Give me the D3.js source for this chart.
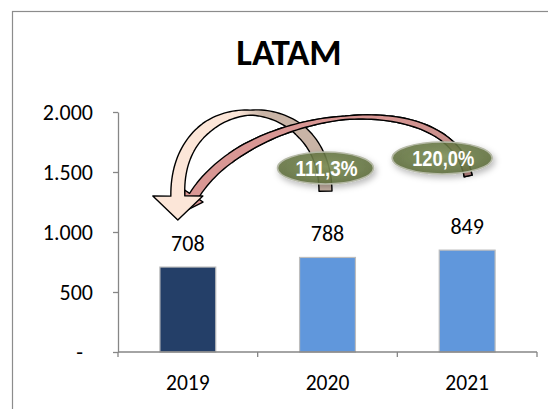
<!DOCTYPE html>
<html><head><meta charset="utf-8">
<script src="https://cdn.jsdelivr.net/npm/d3@7"></script>
<style>body{margin:0;background:#fff}svg{display:block}</style>
</head><body><svg id="c" width="548" height="409"></svg>
<script>
const title = "LATAM";
const categories = ["2019", "2020", "2021"];
const values = [708, 788, 849];
const barColors = ["#243F68", "#6097DC", "#6097DC"];
const yTicks = [0, 500, 1000, 1500, 2000];
const yTickLabels = ["-", "500", "1.000", "1.500", "2.000"];
const growthLabels = ["111,3%", "120,0%"];

const FONT = "Carlito, Lato, 'Liberation Sans', sans-serif";
const svg = d3.select("#c");
const x = d3.scaleBand().domain(categories).range([118, 537]).paddingInner(0.6).paddingOuter(0.3);
const y = d3.scaleLinear().domain([0, 2000]).range([352, 112]);
const cx = c => x(c) + x.bandwidth() / 2;

const defs = svg.append("defs");
const bg = defs.append("linearGradient").attr("id", "beige").attr("gradientUnits", "userSpaceOnUse")
  .attr("x1", 238).attr("y1", 0).attr("x2", 262).attr("y2", 0);
bg.append("stop").attr("offset", 0).attr("stop-color", "#FCE6D8");
bg.append("stop").attr("offset", 1).attr("stop-color", "#C9B4A6");
const rg = defs.append("linearGradient").attr("id", "rose").attr("gradientUnits", "userSpaceOnUse")
  .attr("x1", 380).attr("y1", 0).attr("x2", 470).attr("y2", 0);
rg.append("stop").attr("offset", 0).attr("stop-color", "#D99794");
rg.append("stop").attr("offset", 1).attr("stop-color", "#C48D89");
const eg = defs.append("radialGradient").attr("id", "olive").attr("cx", "50%").attr("cy", "45%").attr("r", "60%");
eg.append("stop").attr("offset", 0).attr("stop-color", "#7E9058");
eg.append("stop").attr("offset", 1).attr("stop-color", "#5B6A39");
const sh = defs.append("filter").attr("id", "shadow").attr("x", "-30%").attr("y", "-40%").attr("width", "160%").attr("height", "190%");
sh.append("feDropShadow").attr("dx", 2).attr("dy", 3).attr("stdDeviation", 3).attr("flood-color", "#000").attr("flood-opacity", 0.3);
defs.append("clipPath").attr("id", "rightPart").append("rect").attr("x", 232).attr("y", 0).attr("width", 400).attr("height", 409);

// frame
svg.append("rect").attr("x", 12.5).attr("y", 11.5).attr("width", 600).attr("height", 500)
  .attr("fill", "none").attr("stroke", "#8C8C8C").attr("stroke-width", 1.2);

// title
svg.append("text").attr("x", 289).attr("y", 65).attr("text-anchor", "middle")
  .attr("font-family", FONT).attr("font-weight", "bold").attr("font-size", 37).attr("fill", "#000").text(title);

// bars
svg.selectAll("rect.bar").data(values).join("rect").attr("class", "bar")
  .attr("x", (d, i) => x(categories[i])).attr("width", x.bandwidth())
  .attr("y", d => y(d)).attr("height", d => y(0) - y(d))
  .attr("fill", (d, i) => barColors[i]).attr("stroke", "#BDBDBD").attr("stroke-width", 1.2);

// value labels
svg.selectAll("text.val").data(values).join("text").attr("class", "val")
  .attr("x", (d, i) => cx(categories[i])).attr("y", d => y(d) - 16)
  .attr("text-anchor", "middle").attr("font-family", FONT).attr("font-size", 22).attr("fill", "#000")
  .text(d => d);

// y axis
const ya = svg.append("g").attr("transform", "translate(118,0)")
  .call(d3.axisLeft(y).tickValues(yTicks).tickFormat((d, i) => yTickLabels[i]).tickSize(5).tickPadding(20).tickSizeOuter(0));
ya.select(".domain").attr("stroke", "#868686").attr("stroke-width", 1.3);
ya.selectAll(".tick line").attr("stroke", "#868686").attr("stroke-width", 1.3);
ya.selectAll(".tick text").attr("font-family", FONT).attr("font-size", 22).attr("fill", "#000")
  .attr("dx", (d, i) => d === 0 ? -10 : 0);

// x axis
const xg = svg.append("g");
xg.append("line").attr("x1", x.range()[0]).attr("x2", x.range()[1]).attr("y1", y(0)).attr("y2", y(0))
  .attr("stroke", "#868686").attr("stroke-width", 1.3);
xg.selectAll("line.t").data(d3.range(categories.length + 1)).join("line").attr("class", "t")
  .attr("x1", i => x.range()[0] + i * x.step()).attr("x2", i => x.range()[0] + i * x.step())
  .attr("y1", y(0)).attr("y2", y(0) + 5).attr("stroke", "#868686").attr("stroke-width", 1.3);
xg.selectAll("text").data(categories).join("text")
  .attr("x", d => cx(d)).attr("y", y(0) + 38).attr("text-anchor", "middle")
  .attr("font-family", FONT).attr("font-size", 21.5).attr("fill", "#000").text(d => d);

// curved ribbon arrows
function bez(P, t) {
  const u = 1 - t;
  const a = u * u * u, b = 3 * u * u * t, c = 3 * u * t * t, d = t * t * t;
  return [a * P[0][0] + b * P[1][0] + c * P[2][0] + d * P[3][0], a * P[0][1] + b * P[1][1] + c * P[2][1] + d * P[3][1]];
}
function ribbon(P, wf, headHalf, headLen) {
  const n = 80, L = [], R = [];
  for (let i = 0; i <= n; i++) {
    const t = i / n;
    const p = bez(P, t), q = bez(P, Math.min(1, t + 0.005)), o = bez(P, Math.max(0, t - 0.005));
    let dx = q[0] - o[0], dy = q[1] - o[1]; const len = Math.hypot(dx, dy); dx /= len; dy /= len;
    const w = wf(t) / 2;
    L.push([p[0] - dy * w, p[1] + dx * w]); R.push([p[0] + dy * w, p[1] - dx * w]);
  }
  const e = bez(P, 1), f = bez(P, 0.98);
  let dx = e[0] - f[0], dy = e[1] - f[1]; const len = Math.hypot(dx, dy); dx /= len; dy /= len;
  const path = d3.path();
  path.moveTo(L[0][0], L[0][1]);
  L.forEach(p => path.lineTo(p[0], p[1]));
  path.lineTo(e[0] - dy * headHalf, e[1] + dx * headHalf);
  path.lineTo(e[0] + dx * headLen, e[1] + dy * headLen);
  path.lineTo(e[0] + dy * headHalf, e[1] - dx * headHalf);
  R.slice().reverse().forEach(p => path.lineTo(p[0], p[1]));
  path.closePath();
  return path.toString();
}
const c19 = cx("2019"), c20 = cx("2020"), c21 = cx("2021");
const beigeP = [[c20 - 2, y(1340)], [c20 - 3, y(2220)], [c19 - 13, y(2220)], [c19 - 10, y(1300)]];
const beigeW = d3.scaleLinear().domain([0, 0.25, 0.5, 0.7, 1]).range([13, 12, 5, 11, 14]);
const roseP = [[c21 + 1, y(1467)], [c21 - 17, y(2225)], [c19 + 62, y(2058)], [c19 + 6, y(1300)]];
const roseW = d3.scaleLinear().domain([0, 0.3, 0.5, 0.8, 1]).range([8, 6, 3.5, 9, 10]);
const beigeD = ribbon(beigeP, beigeW, 25, 24);
const roseD = ribbon(roseP, roseW, 11, 19);
const arrowStyle = s => s.attr("stroke", "#000").attr("stroke-width", 1.4).attr("stroke-linejoin", "round");
svg.append("path").attr("d", roseD).attr("fill", "url(#rose)").call(arrowStyle);
svg.append("path").attr("d", beigeD).attr("fill", "url(#beige)").call(arrowStyle);
svg.append("path").attr("d", roseD).attr("fill", "url(#rose)").attr("clip-path", "url(#rightPart)").call(arrowStyle);

// growth bubbles
const bubbles = [
  { label: growthLabels[0], x: c20 - 2, y: y(1533), rx: 48, ry: 16 },
  { label: growthLabels[1], x: c21 - 25, y: y(1617), rx: 50, ry: 16 }
];
const bgp = svg.selectAll("g.bub").data(bubbles).join("g").attr("class", "bub");
bgp.append("ellipse").attr("cx", d => d.x).attr("cy", d => d.y).attr("rx", d => d.rx).attr("ry", d => d.ry)
  .attr("fill", "url(#olive)").attr("fill-opacity", 0.88).attr("stroke", "#B5B9A6").attr("stroke-width", 1.6)
  .attr("filter", "url(#shadow)");
bgp.append("text").attr("x", d => d.x + 1).attr("y", d => d.y + 8).attr("text-anchor", "middle")
  .attr("font-family", "'Liberation Sans Narrow', 'Arial Narrow', 'Liberation Sans', sans-serif")
  .attr("font-weight", "bold").attr("font-size", 22).attr("fill", "#fff")
  .attr("textLength", 62).attr("lengthAdjust", "spacingAndGlyphs").text(d => d.label);
</script></body></html>
